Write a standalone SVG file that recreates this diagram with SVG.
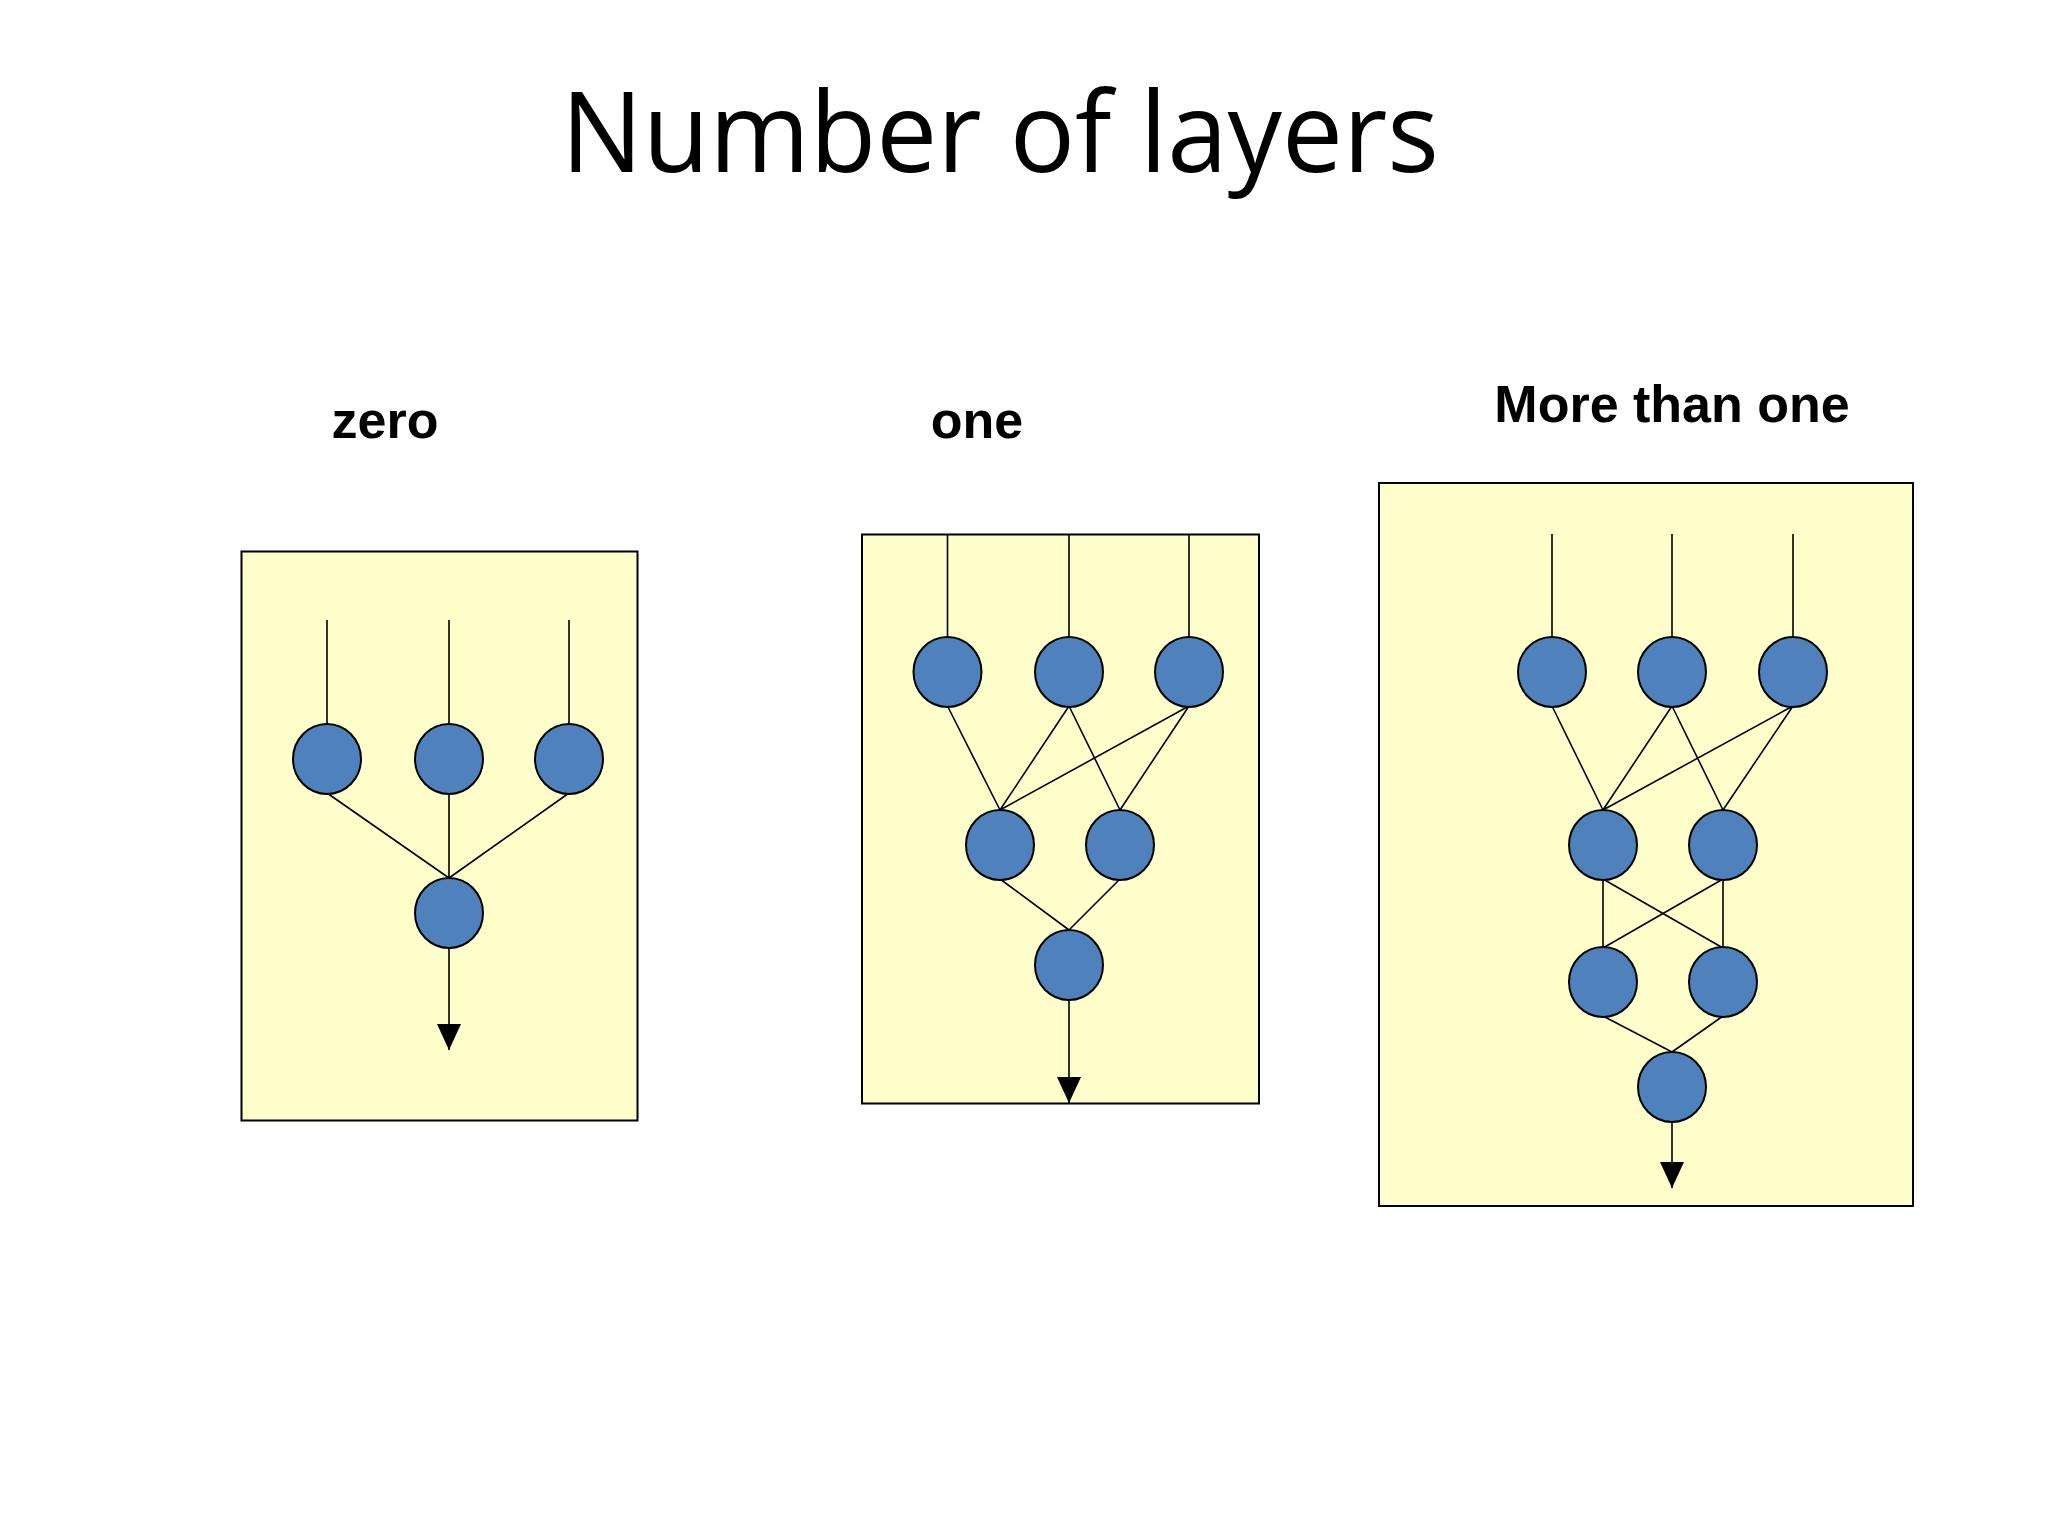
<svg xmlns="http://www.w3.org/2000/svg" width="2048" height="1536" viewBox="0 0 2048 1536">
<style>
.box{fill:#ffffcc;stroke:#000;stroke-width:2}
.n{fill:#4f81bd;stroke:#000;stroke-width:2}
.l{stroke:#000;stroke-width:1.6;fill:none}
.a{stroke:#000;stroke-width:1.6;fill:none;marker-end:url(#ah)}
.lab{font-family:"Liberation Sans",Arial,sans-serif;font-weight:bold;font-size:52px;text-anchor:middle}
</style>
<defs><marker id="ah" markerUnits="userSpaceOnUse" markerWidth="26" markerHeight="28" refX="26" refY="12" orient="auto"><path d="M0,0 L26,12 L0,24 Z" fill="#000"/></marker></defs>
<rect width="2048" height="1536" fill="#fff"/>
<text x="1000" y="172" font-family="'Open Sans',sans-serif" font-size="112" text-anchor="middle" textLength="878" lengthAdjust="spacingAndGlyphs">Number of layers</text>
<text class="lab" x="385" y="438">zero</text>
<text class="lab" x="977" y="438">one</text>
<text class="lab" x="1672" y="422">More than one</text>
<g id="box1"><rect class="box" x="241.5" y="551.5" width="396" height="569"/></g>
<g id="box2"><rect class="box" x="862" y="534.5" width="397" height="569"/></g>
<g id="box3"><rect class="box" x="1379" y="483" width="534" height="723"/></g>
<g id="connectors">
<path class="a" d="M327,620V724M449,620V724M569,620V724M449,948V1050"/>
<path class="l" d="M327,793L449,878M449,793V878M569,793L449,878"/>
<path class="a" d="M947.5,534V637M1069,534V637M1189,534V637M1069,1000V1103"/>
<path class="l" d="M947.5,706L1000,810M1069,706L1000,810M1069,706L1120,810M1189,706L1000,810M1189,706L1120,810M1000,879L1069,930M1120,879L1069,930"/>
<path class="a" d="M1552,534V637M1672,534V637M1793,534V637M1672,1122V1188"/>
<path class="l" d="M1552,706L1603,810M1672,706L1603,810M1672,706L1723,810M1793,706L1603,810M1793,706L1723,810M1603,879V948M1723,879V948M1603,879L1723,948M1723,879L1603,948M1603,1016L1672,1052M1723,1016L1672,1052"/>
</g>
<g id="z1"><ellipse class="n" cx="327" cy="759" rx="34" ry="35"/></g>
<g id="z2"><ellipse class="n" cx="449" cy="759" rx="34" ry="35"/></g>
<g id="z3"><ellipse class="n" cx="569" cy="759" rx="34" ry="35"/></g>
<g id="zo"><ellipse class="n" cx="449" cy="913" rx="34" ry="35"/></g>
<g id="o1"><ellipse class="n" cx="947.5" cy="672" rx="34" ry="35"/></g>
<g id="o2"><ellipse class="n" cx="1069" cy="672" rx="34" ry="35"/></g>
<g id="o3"><ellipse class="n" cx="1189" cy="672" rx="34" ry="35"/></g>
<g id="oh1"><ellipse class="n" cx="1000" cy="845" rx="34" ry="35"/></g>
<g id="oh2"><ellipse class="n" cx="1120" cy="845" rx="34" ry="35"/></g>
<g id="oo"><ellipse class="n" cx="1069" cy="965" rx="34" ry="35"/></g>
<g id="m1"><ellipse class="n" cx="1552" cy="672" rx="34" ry="35"/></g>
<g id="m2"><ellipse class="n" cx="1672" cy="672" rx="34" ry="35"/></g>
<g id="m3"><ellipse class="n" cx="1793" cy="672" rx="34" ry="35"/></g>
<g id="mh1"><ellipse class="n" cx="1603" cy="845" rx="34" ry="35"/></g>
<g id="mh2"><ellipse class="n" cx="1723" cy="845" rx="34" ry="35"/></g>
<g id="mh3"><ellipse class="n" cx="1603" cy="982" rx="34" ry="35"/></g>
<g id="mh4"><ellipse class="n" cx="1723" cy="982" rx="34" ry="35"/></g>
<g id="mo"><ellipse class="n" cx="1672" cy="1087" rx="34" ry="35"/></g>
</svg>
